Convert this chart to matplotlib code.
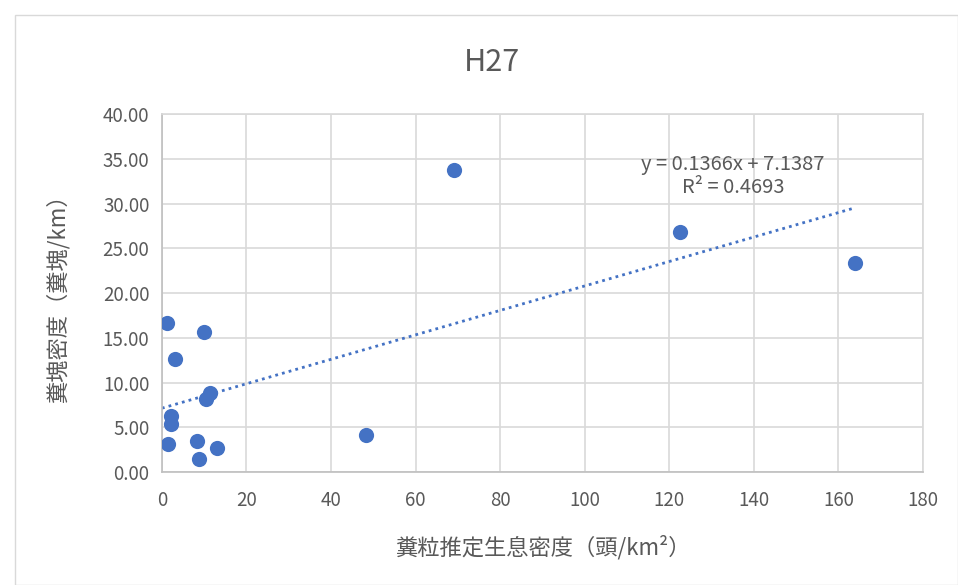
import matplotlib
matplotlib.use("Agg")
import matplotlib.pyplot as plt
import numpy as np

plt.rcParams['font.family'] = ['Noto Sans CJK JP', 'DejaVu Sans']

# data
pellet_density = [1.2, 9.9, 3.1, 11.3, 10.5, 2.1, 2.1, 1.4, 8.3, 13.0, 8.8, 48.2, 69.1, 122.5, 163.9]
dung_density = [16.7, 15.6, 12.6, 8.8, 8.2, 6.3, 5.4, 3.1, 3.5, 2.7, 1.45, 4.2, 33.7, 26.8, 23.4]
slope = 0.1366
intercept = 7.1387
r2 = 0.4693

x_ticks = list(range(0, 181, 20))
y_ticks = [0, 5, 10, 15, 20, 25, 30, 35, 40]

grey = '#595959'
grid_c = '#d9d9d9'
blue = '#4472C4'

fig = plt.figure(figsize=(9.58, 5.85), dpi=100)
fig.patches.append(plt.Rectangle((0.016, 0.0), 0.984, 0.975, transform=fig.transFigure,
                                 fill=False, edgecolor='#d9d9d9', linewidth=1))
ax = fig.add_axes([0.169, 0.193, 0.7945, 0.612])

ax.scatter(pellet_density, dung_density, s=120, color=blue, zorder=3, linewidths=0)

tx = np.array([0, max(pellet_density)])
ax.plot(tx, slope * tx + intercept, color=blue, linestyle=(0, (1, 1.5)), linewidth=2, zorder=2)

ax.set_xlim(0, 180)
ax.set_ylim(0, 40)
ax.set_xticks(x_ticks)
ax.set_yticks(y_ticks)
ax.set_yticklabels([f"{v:.2f}" for v in y_ticks])
ax.tick_params(length=0, labelsize=13.5, colors=grey)
ax.tick_params(axis='x', pad=13)
ax.tick_params(axis='y', pad=9)
ax.grid(True, color=grid_c, linewidth=1.2)
ax.set_axisbelow(True)
for s in ax.spines.values():
    s.set_color(grid_c)
    s.set_linewidth(1.2)
ax.spines['bottom'].set_color('#bfbfbf')
ax.spines['left'].set_color('#bfbfbf')

ax.text(135, 33.1, f"y = {slope}x + {intercept}\nR² = {r2}", ha='center', va='center',
        fontsize=14.5, color=grey, linespacing=1.15)

fig.text(0.513, 0.893, "H27", fontsize=22, color=grey, ha='center', va='center')
ax.set_xlabel("糞粒推定生息密度（頭/km²）", fontsize=16, color=grey, labelpad=17)
ax.set_ylabel("糞塊密度（糞塊/km）", fontsize=16, color=grey, labelpad=24)

fig.savefig("out.png", dpi=100)
